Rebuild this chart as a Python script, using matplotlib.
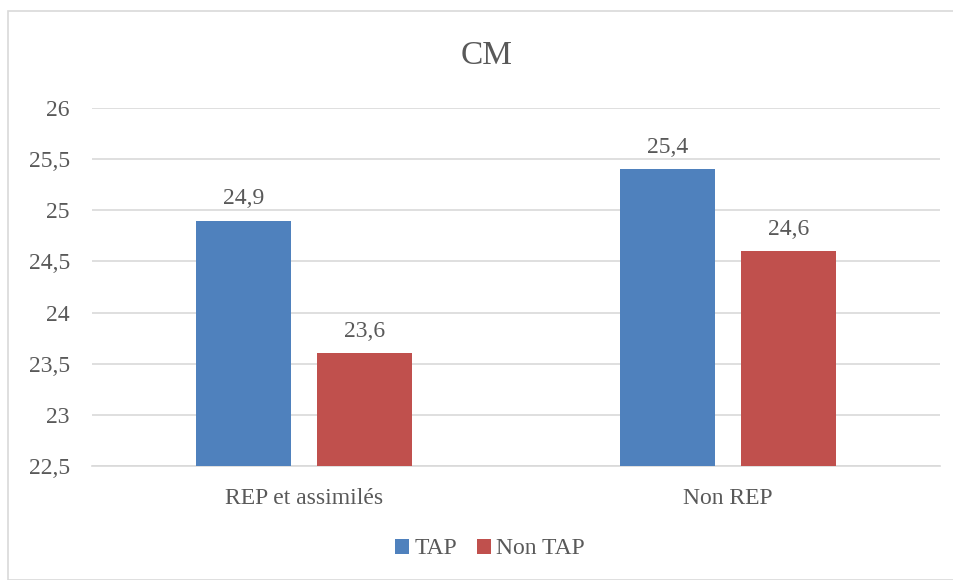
import numpy as np
import matplotlib.pyplot as plt
from matplotlib.patches import Rectangle
from matplotlib.ticker import FuncFormatter

categories = ['REP et assimilés', 'Non REP']
series_names = ['TAP', 'Non TAP']
tap = [24.9, 25.4]
non_tap = [23.6, 24.6]
colors = ['#4F81BD', '#C0504D']
text_col = '#595959'

plt.rcParams['font.family'] = ['Liberation Serif', 'DejaVu Serif']

fig = plt.figure(figsize=(9.54, 5.8), dpi=100)
W, H = 954, 580

# chart border
fig.patches.append(Rectangle((8 / W, 0), 1, 1 - 11 / H, transform=fig.transFigure,
                             fill=False, edgecolor='#D9D9D9', linewidth=1.2))

ax = fig.add_axes([92 / W, (H - 466) / H, 848 / W, 358 / H])

x = np.arange(len(categories))
width = 0.224
offset = 0.1427
for vals, off, c, name in [(tap, -offset, colors[0], series_names[0]),
                           (non_tap, offset, colors[1], series_names[1])]:
    bars = ax.bar(x + off, np.array(vals) - 22.5, width, bottom=22.5, color=c,
                  label=name, zorder=3)
    for b, v in zip(bars, vals):
        ax.annotate(f'{v:.1f}'.replace('.', ','), (b.get_x() + b.get_width() / 2, v),
                    xytext=(0, 8), textcoords='offset points', ha='center', va='bottom',
                    fontsize=17, color=text_col)

ax.set_xlim(-0.5, 1.5)
ax.set_ylim(22.5, 26)
ax.set_yticks(np.arange(22.5, 26.01, 0.5))
ax.yaxis.set_major_formatter(FuncFormatter(lambda v, p: f'{v:g}'.replace('.', ',')))
ax.set_xticks(x)
ax.set_xticklabels(categories)
ax.grid(axis='y', color='#D9D9D9', linewidth=1.2, zorder=0)
for s in ['top', 'right', 'left']:
    ax.spines[s].set_visible(False)
ax.spines['bottom'].set_color('#D9D9D9')
ax.spines['bottom'].set_linewidth(1.2)
ax.tick_params(axis='both', length=0, labelsize=17, colors=text_col)
ax.tick_params(axis='y', pad=16)
ax.tick_params(axis='x', pad=16)

fig.text(487 / W, 1 - 56 / H, 'CM', ha='center', va='center', fontsize=24,
         color=text_col)

fig.legend(loc='center', bbox_to_anchor=(490 / W, 1 - 549 / H), ncol=2, frameon=False,
           fontsize=17, labelcolor=text_col, handlelength=0.6, handleheight=0.6,
           handletextpad=0.2, columnspacing=0.85)

fig.savefig('out.png', dpi=100)
